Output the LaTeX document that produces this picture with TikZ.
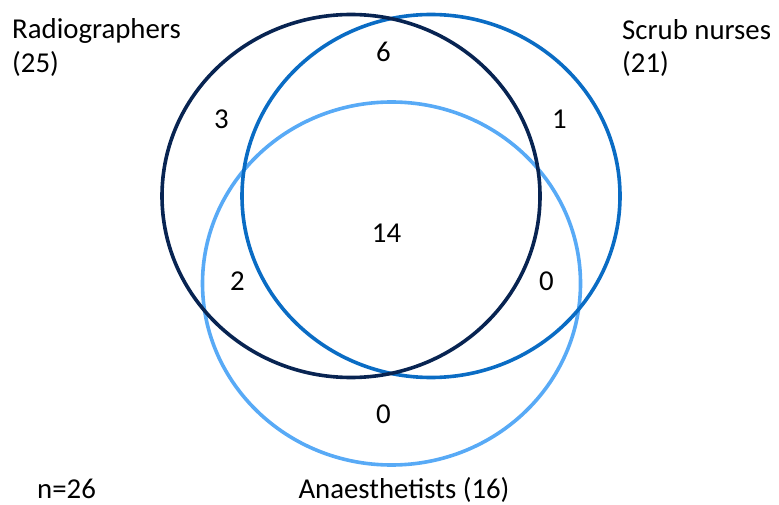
\documentclass[tikz,border=0pt]{standalone}
\usepackage{fontspec}
\setmainfont{Carlito}
\usetikzlibrary{shapes.geometric}
\definecolor{navyc}{RGB}{8,36,82}
\definecolor{midc}{RGB}{10,108,196}
\definecolor{lightc}{RGB}{88,170,246}
\begin{document}
\begin{tikzpicture}[x=1pt,y=-1pt,
  setring/.style={draw, ellipse, line width=3.6pt, minimum width=378pt, minimum height=363pt, inner sep=0pt},
  lbl/.style={font=\fontsize{28.8}{35}\selectfont, inner sep=0pt, text=black},
  num/.style={lbl, anchor=base}]
\useasboundingbox (0,0) rectangle (779,505);
\node[setring, draw=lightc] (A) at (391.5,283.5) {};
\node[setring, draw=midc] (S) at (431,196) {};
\node[setring, draw=navyc] (R) at (351,196) {};
\node[lbl, anchor=base west] (rl1) at (12,39) {Radiographers};
\node[lbl, anchor=base west] (rl2) at (12,73) {(25)};
\node[lbl, anchor=base west] (sl1) at (622,40) {Scrub nurses};
\node[lbl, anchor=base west] (sl2) at (622,73) {(21)};
\node[lbl, anchor=base] (al) at (404,498) {Anaesthetists (16)};
\node[lbl, anchor=base west] (nl) at (37,498) {n=26};
\node[num] (n6) at (383.5,62) {6};
\node[num] (n3) at (221.5,129) {3};
\node[num] (n1) at (559.5,129) {1};
\node[num] (n14) at (386.5,243) {14};
\node[num] (n2) at (237.5,290) {2};
\node[num] (n0a) at (546.5,290) {0};
\node[num] (n0b) at (383.5,423) {0};
\end{tikzpicture}
\end{document}
